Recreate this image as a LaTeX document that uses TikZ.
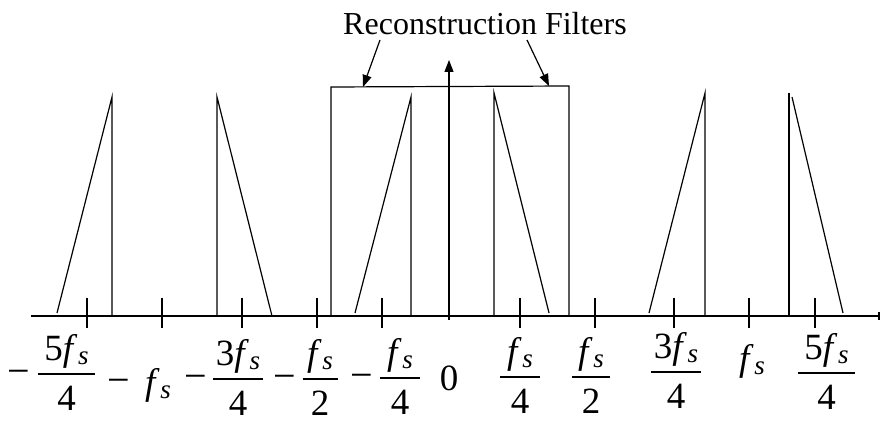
\documentclass[tikz,border=0pt]{standalone}
\usepackage{fontspec}
\setmainfont{Liberation Serif}
\usetikzlibrary{arrows.meta}
\newcommand\fsub{\textit{f}\kern0.5pt\raisebox{-4pt}{\fontsize{27}{27}\selectfont\textit{s}}}
\tikzset{
  lbl/.style={inner sep=0pt, font=\fontsize{37}{44}\selectfont},
  den/.style={lbl, text depth=0pt},
  mns/.style={inner sep=0pt, font=\fontsize{40}{44}\selectfont},
  ttl/.style={inner sep=0pt, font=\fontsize{32}{38}\selectfont},
  ln/.style={line width=1.2pt},
  fracline/.style={line width=1.4pt},
  tip/.style={-{Triangle[length=12pt,width=9pt]}},
}
% name, x, y of fraction line, numerator, denominator, half width of line
\newcommand\fr[6]{%
  \node[lbl,anchor=base] (#1n) at (#2,#3-14) {#4};
  \node[den,anchor=base] (#1d) at (#2,#3+36) {#5};
  \draw[fracline] (#2-#6,#3) -- (#2+#6,#3);}
\begin{document}
\begin{tikzpicture}[x=1pt,y=-1pt]
\useasboundingbox (0,0) rectangle (882,422);
% axis
\draw[ln,-{Bar[width=8pt,line width=2pt]}] (31,316) -- (880,316);
% ticks
\foreach \t in {87,162,242,317,382,520,595,674,749,815}
  \draw[ln] (\t,298) -- (\t,328);
% spectra
\draw[ln] (57,313) -- (112,97) -- (112,316);
\draw[ln] (217,316) -- (217,97) -- (272,316);
\draw[ln] (355,313) -- (411,97) -- (411,316);
\draw[ln] (494,316) -- (494,93) -- (549,313);
\draw[ln] (649,313) -- (705,93) -- (705,316);
\draw[ln] (789,316) -- (789,93);
\draw[ln] (792,97) -- (843,313);
% reconstruction filter
\coordinate (fl) at (363,87);
\coordinate (fr) at (549,86);
\draw[ln] (331,316) -- (331,87) -- (569,86) -- (569,316);
% vertical axis
\coordinate (vb) at (449,320);
\coordinate (vt) at (449,60);
\draw[ln,tip] (vb) -- (vt);
% title
\node[ttl] (title) at (485,24) {Reconstruction Filters};
\draw[ln,tip] (380,40) -- (fl);
\draw[ln,tip] (527,40) -- (fr);
% minus signs
\node[mns,anchor=base] (m1) at (19,374+10) {−};
\node[mns,anchor=base] (m2) at (119,383+10) {−};
\node[mns,anchor=base] (m3) at (196,379+10) {−};
\node[mns,anchor=base] (m4) at (285,379+10) {−};
\node[mns,anchor=base] (m5) at (362,378+10) {−};
% fractions
\fr{a}{66.5}{374}{5\fsub}{4}{28.5}
\fr{b}{238}{379}{3\fsub}{4}{25}
\fr{c}{320}{379}{\fsub}{2}{17.5}
\fr{d}{400}{378}{\fsub}{4}{20}
\fr{e}{520}{377}{\fsub}{4}{20}
\fr{g}{591}{377}{\fsub}{2}{19}
\fr{h}{676}{372}{3\fsub}{4}{25}
\fr{k}{826.5}{373}{5\fsub}{4}{28.5}
% single labels
\node[lbl,anchor=base] (l2) at (158,394) {\fsub};
\node[lbl,anchor=base] (l6) at (449,390) {0};
\node[lbl,anchor=base] (l10) at (752,370) {\fsub};
\end{tikzpicture}
\end{document}
